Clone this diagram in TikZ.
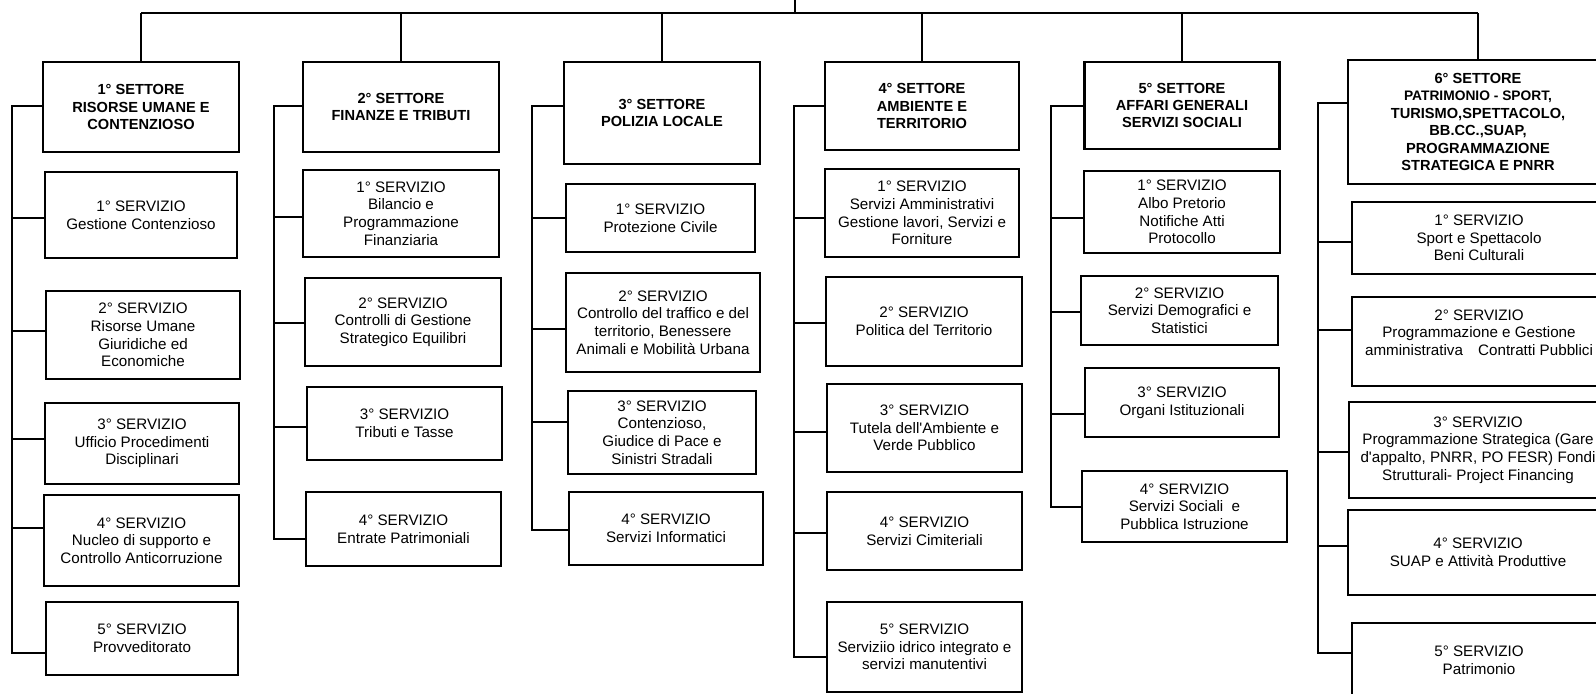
\documentclass[tikz,border=0pt]{standalone}
\usepackage{fontspec}
\setmainfont{Liberation Sans}
\begin{document}
\begin{tikzpicture}[
x=0.025cm,y=-0.025cm,
wh/.style 2 args={%
minimum width=#1*0.025cm,
minimum height=#2*0.025cm
},
sett/.style={%
draw, line width=1.5pt, inner sep=0pt, align=center,
font=\bfseries\fontsize{10.4}{12.4}\selectfont
},
serv/.style={%
draw, line width=1.5pt, inner sep=0pt, align=center,
font=\fontsize{10.8}{12.6}\selectfont
},
link/.style={line width=2pt}
]
\useasboundingbox(0,0)rectangle(1596,693);
\clip(0,0)rectangle(1596,693);
%% Settori
\node[sett,wh={196}{90}]at(141,107)(s1){1° SETTORE\\RISORSE UMANE E\\CONTENZIOSO};
\node[sett,wh={196}{90}]at(401,107)(s2){2° SETTORE\\FINANZE E TRIBUTI};
\node[sett,wh={196}{102}]at(662,113)(s3){3° SETTORE\\POLIZIA LOCALE};
\node[sett,wh={194}{88}]at(922,106)(s4){4° SETTORE\\AMBIENTE E\\TERRITORIO};
\node[sett,wh={195}{87}]at(1182,105.5)(s5){5° SETTORE\\AFFARI GENERALI\\SERVIZI SOCIALI};
\node[sett,wh={260}{124}]at(1478,122)(s6){6° SETTORE\\\fontsize{9.8}{12.4}\selectfont PATRIMONIO - SPORT,\\TURISMO,SPETTACOLO,\\BB.CC.,SUAP,\\PROGRAMMAZIONE\\STRATEGICA E PNRR};
%% Top bus
\coordinate(top)at(795,0);
\coordinate(bus)at(795,13);
\draw[link](top)--(bus);
\draw[link](s1.north|-bus)--(s6.north|-bus);
\draw[link](s1.north|-bus)--(s1.north);
\draw[link](s2.north|-bus)--(s2.north);
\draw[link](s3.north|-bus)--(s3.north);
\draw[link](s4.north|-bus)--(s4.north);
\draw[link](s5.north|-bus)--(s5.north);
\draw[link](s6.north|-bus)--(s6.north);
%% 1° settore
\node[serv,wh={192}{86}]at(141,215)(c1a){1° SERVIZIO\\Gestione Contenzioso};
\node[serv,wh={194}{88}]at(143,335)(c1b){2° SERVIZIO\\Risorse Umane\\Giuridiche ed\\Economiche};
\node[serv,wh={194}{81}]at(142,443.5)(c1c){3° SERVIZIO\\Ufficio Procedimenti\\Disciplinari};
\node[serv,wh={195}{91}]at(141.5,540.5)(c1d){4° SERVIZIO\\Nucleo di supporto e\\Controllo Anticorruzione};
\node[serv,wh={192}{73}]at(142,638.5)(c1e){5° SERVIZIO\\Provveditorato};
\coordinate(b1)at(12,106);
\draw[link](s1.west|-b1)--(b1)--(b1|-0,653)--(c1e.west|-0,653);
\draw[link](b1|-0,218)--(c1a.west|-0,218);
\draw[link](b1|-0,331)--(c1b.west|-0,331);
\draw[link](b1|-0,439)--(c1c.west|-0,439);
\draw[link](b1|-0,528)--(c1d.west|-0,528);
%% 2° settore
\node[serv,wh={196}{87}]at(401,213.5)(c2a){1° SERVIZIO\\Bilancio e\\Programmazione\\Finanziaria};
\node[serv,wh={196}{88}]at(403,322)(c2b){2° SERVIZIO\\Controlli di Gestione\\Strategico Equilibri};
\node[serv,wh={195}{73}]at(404.5,423.5)(c2c){3° SERVIZIO\\Tributi e Tasse};
\node[serv,wh={195}{74}]at(403.5,529)(c2d){4° SERVIZIO\\Entrate Patrimoniali};
\coordinate(b2)at(274,106);
\draw[link](s2.west|-b2)--(b2)--(b2|-0,539)--(c2d.west|-0,539);
\draw[link](b2|-0,217)--(c2a.west|-0,217);
\draw[link](b2|-0,323)--(c2b.west|-0,323);
\draw[link](b2|-0,427)--(c2c.west|-0,427);
%% 3° settore
\node[serv,wh={189}{68}]at(660.5,218)(c3a){1° SERVIZIO\\Protezione Civile};
\node[serv,wh={194}{99}]at(663,322.5)(c3b){2° SERVIZIO\\Controllo del traffico e del\\territorio, Benessere\\Animali e Mobilità Urbana};
\node[serv,wh={188}{83}]at(662,432.5)(c3c){3° SERVIZIO\\Contenzioso,\\Giudice di Pace e\\Sinistri Stradali};
\node[serv,wh={194}{73}]at(666,528.5)(c3d){4° SERVIZIO\\Servizi Informatici};
\coordinate(b3)at(532,106);
\draw[link](s3.west|-b3)--(b3)--(b3|-0,530)--(c3d.west|-0,530);
\draw[link](b3|-0,218)--(c3a.west|-0,218);
\draw[link](b3|-0,329)--(c3b.west|-0,329);
\draw[link](b3|-0,422)--(c3c.west|-0,422);
%% 4° settore
\node[serv,wh={194}{88}]at(922,213)(c4a){1° SERVIZIO\\Servizi Amministrativi\\Gestione lavori, Servizi e\\Forniture};
\node[serv,wh={196}{89}]at(924,321.5)(c4b){2° SERVIZIO\\Politica del Territorio};
\node[serv,wh={195}{88}]at(924.5,428)(c4c){3° SERVIZIO\\Tutela dell\textquotesingle Ambiente e\\Verde Pubblico};
\node[serv,wh={195}{78}]at(924.5,531)(c4d){4° SERVIZIO\\Servizi Cimiteriali};
\node[serv,wh={195}{90}]at(924.5,647)(c4e){5° SERVIZIO\\Serviziio idrico integrato e\\servizi manutentivi};
\coordinate(b4)at(794,106);
\draw[link](s4.west|-b4)--(b4)--(b4|-0,657)--(c4e.west|-0,657);
\draw[link](b4|-0,218)--(c4a.west|-0,218);
\draw[link](b4|-0,323)--(c4b.west|-0,323);
\draw[link](b4|-0,432)--(c4c.west|-0,432);
\draw[link](b4|-0,533)--(c4d.west|-0,533);
%% 5° settore
\node[serv,wh={196}{82}]at(1182,212)(c5a){1° SERVIZIO\\Albo Pretorio\\Notifiche Atti\\Protocollo};
\node[serv,wh={197}{69}]at(1179.5,310.5)(c5b){2° SERVIZIO\\Servizi Demografici e\\Statistici};
\node[serv,wh={194}{69}]at(1182,402.5)(c5c){3° SERVIZIO\\Organi Istituzionali};
\node[serv,wh={205}{71}]at(1184.5,506.5)(c5d){4° SERVIZIO\\Servizi Sociali\ \ e\\Pubblica Istruzione};
\coordinate(b5)at(1051,106);
\draw[link](s5.west|-b5)--(b5)--(b5|-0,507)--(c5d.west|-0,507);
\draw[link](b5|-0,218)--(c5a.west|-0,218);
\draw[link](b5|-0,312)--(c5b.west|-0,312);
\draw[link](b5|-0,414)--(c5c.west|-0,414);
%% 6° settore
\node[serv,wh={254}{72}]at(1479,238)(c6a){1° SERVIZIO\\Sport e Spettacolo\\Beni Culturali};
\node[serv,wh={254}{89}]at(1479,341.5)(c6b){2° SERVIZIO\\Programmazione e Gestione\\amministrativa\quad Contratti Pubblici\\~};
\node[serv,wh={258}{96}]at(1478,450)(c6c){3° SERVIZIO\\Programmazione Strategica (Gare\\d\textquotesingle appalto, PNRR, PO FESR) Fondi\\Strutturali- Project Financing};
\node[serv,wh={260}{85}]at(1478,552.5)(c6d){4° SERVIZIO\\SUAP e Attività Produttive};
\node[serv,wh={254}{74}]at(1479,660)(c6e){5° SERVIZIO\\Patrimonio};
\coordinate(b6)at(1318,103);
\draw[link](s6.west|-b6)--(b6)--(b6|-0,653)--(c6e.west|-0,653);
\draw[link](b6|-0,242)--(c6a.west|-0,242);
\draw[link](b6|-0,330)--(c6b.west|-0,330);
\draw[link](b6|-0,452)--(c6c.west|-0,452);
\draw[link](b6|-0,546)--(c6d.west|-0,546);
\end{tikzpicture}
\end{document}
